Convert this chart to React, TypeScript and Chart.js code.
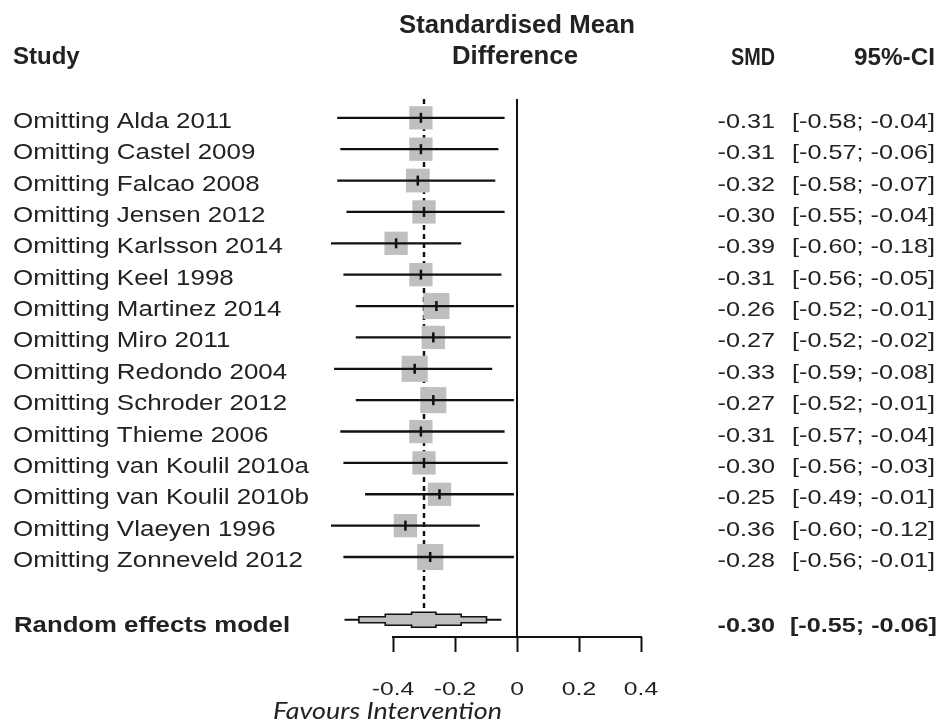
import React, { useEffect, useRef } from 'react';
import { Chart, registerables } from 'chart.js';

Chart.register(...registerables);

// ---------- data ----------
const studies = [
  'Omitting Alda 2011',
  'Omitting Castel 2009',
  'Omitting Falcao 2008',
  'Omitting Jensen 2012',
  'Omitting Karlsson 2014',
  'Omitting Keel 1998',
  'Omitting Martinez 2014',
  'Omitting Miro 2011',
  'Omitting Redondo 2004',
  'Omitting Schroder 2012',
  'Omitting Thieme 2006',
  'Omitting van Koulil 2010a',
  'Omitting van Koulil 2010b',
  'Omitting Vlaeyen 1996',
  'Omitting Zonneveld 2012',
];
const smd = [-0.31, -0.31, -0.32, -0.30, -0.39, -0.31, -0.26, -0.27, -0.33, -0.27, -0.31, -0.30, -0.25, -0.36, -0.28];
const ciLower = [-0.58, -0.57, -0.58, -0.55, -0.60, -0.56, -0.52, -0.52, -0.59, -0.52, -0.57, -0.56, -0.49, -0.60, -0.56];
const ciUpper = [-0.04, -0.06, -0.07, -0.04, -0.18, -0.05, -0.01, -0.02, -0.08, -0.01, -0.04, -0.03, -0.01, -0.12, -0.01];
const boxWeights = [1, 1, 1.02, 1, 1, 1, 1.12, 1, 1.12, 1.12, 1, 1, 1, 1, 1.12];

const pooledLabel = 'Random effects model';
const pooledSmd = -0.30;
const pooledLower = -0.55;
const pooledUpper = -0.06;

const xTicks = [-0.4, -0.2, 0, 0.2, 0.4];

const headerStudy = 'Study';
const headerEffect1 = 'Standardised Mean';
const headerEffect2 = 'Difference';
const headerSmd = 'SMD';
const headerCi = '95%-CI';
const xLabel = 'Favours Intervention';

// ---------- layout helpers ----------
const pooledRow = studies.length + 1;
const TEXT = '#222222';
const BOX = '#bfbfbf';
const LINE = '#111111';
const BASE_BOX = 23.3;

function fmt(v: number) {
  return v.toFixed(2);
}

function drawText(
  ctx: CanvasRenderingContext2D,
  s: string,
  x: number,
  y: number,
  font: string,
  align: 'left' | 'right' | 'center',
  sx: number,
  targetWidth?: number
) {
  ctx.save();
  ctx.font = font;
  ctx.fillStyle = TEXT;
  ctx.textBaseline = 'alphabetic';
  ctx.textAlign = 'left';
  const w = ctx.measureText(s).width;
  const k = targetWidth ? targetWidth / w : sx;
  const W = w * k;
  const left = align === 'left' ? x : align === 'right' ? x - W : x - W / 2;
  ctx.translate(left, y);
  ctx.scale(k, 1);
  ctx.fillText(s, 0, 0);
  ctx.restore();
}

const forestPlugin = {
  id: 'forestPlot',
  beforeDatasetsDraw(chart: any) {
    const { ctx, chartArea, scales } = chart;
    const xs = scales.x;
    const ys = scales.y;
    const px = xs.getPixelForValue(pooledSmd);
    const py = ys.getPixelForValue(pooledRow);
    ctx.save();
    ctx.strokeStyle = LINE;
    ctx.lineWidth = 2.5;
    ctx.setLineDash([5, 4]);
    ctx.beginPath();
    ctx.moveTo(px, chartArea.top);
    ctx.lineTo(px, py - 7.5);
    ctx.stroke();
    ctx.restore();
  },
  afterDatasetsDraw(chart: any) {
    const { ctx, chartArea, scales } = chart;
    const xs = scales.x;
    const ys = scales.y;

    ctx.save();
    ctx.strokeStyle = LINE;
    ctx.lineCap = 'butt';

    // zero line
    const x0 = xs.getPixelForValue(0);
    ctx.lineWidth = 2;
    ctx.beginPath();
    ctx.moveTo(x0, chartArea.top);
    ctx.lineTo(x0, chartArea.bottom);
    ctx.stroke();

    // axis line between first and last tick
    ctx.beginPath();
    ctx.moveTo(xs.getPixelForValue(xTicks[0]) - 1, chartArea.bottom);
    ctx.lineTo(xs.getPixelForValue(xTicks[xTicks.length - 1]) + 1, chartArea.bottom);
    ctx.stroke();

    // CI lines + estimate ticks
    studies.forEach((_, i) => {
      const y = ys.getPixelForValue(i);
      ctx.lineWidth = 2.3;
      ctx.beginPath();
      ctx.moveTo(xs.getPixelForValue(ciLower[i]), y);
      ctx.lineTo(xs.getPixelForValue(ciUpper[i]), y);
      ctx.stroke();
      const ex = xs.getPixelForValue(smd[i]);
      ctx.lineWidth = 2.5;
      ctx.beginPath();
      ctx.moveTo(ex, y - 5);
      ctx.lineTo(ex, y + 5);
      ctx.stroke();
    });

    // pooled estimate (stepped diamond)
    const py = ys.getPixelForValue(pooledRow);
    const pc = xs.getPixelForValue(pooledSmd);
    const pl = xs.getPixelForValue(pooledLower);
    const pu = xs.getPixelForValue(pooledUpper);
    ctx.lineWidth = 2;
    ctx.beginPath();
    ctx.moveTo(pl - 2, py);
    ctx.lineTo(pu + 3, py);
    ctx.stroke();
    const L = (f: number) => pc - (pc - pl) * f;
    const R = (f: number) => pc + (pu - pc) * f;
    const steps: [number, number][] = [
      [0.84, 3],
      [0.5, 5.5],
      [0.16, 7.5],
    ];
    const pts: [number, number][] = [];
    // top edge left -> right
    steps.forEach(([f, h], k) => {
      pts.push([L(f), py - (k === 0 ? h : steps[k - 1][1])]);
      pts.push([L(f), py - h]);
    });
    for (let k = steps.length - 1; k >= 0; k--) {
      const [f, h] = steps[k];
      pts.push([R(f), py - h]);
      pts.push([R(f), py - (k === 0 ? h : steps[k - 1][1])]);
    }
    // bottom edge right -> left
    steps.forEach(([f, h], k) => {
      pts.push([R(f), py + (k === 0 ? h : steps[k - 1][1])]);
      pts.push([R(f), py + h]);
    });
    for (let k = steps.length - 1; k >= 0; k--) {
      const [f, h] = steps[k];
      pts.push([L(f), py + h]);
      pts.push([L(f), py + (k === 0 ? h : steps[k - 1][1])]);
    }
    // reorder bottom so polygon is consistent
    const top = pts.slice(0, pts.length / 2);
    const bottom = pts.slice(pts.length / 2);
    bottom.reverse();
    const bottomFixed = bottom.map(([x, yy]) => [x, yy] as [number, number]);
    ctx.beginPath();
    top.forEach(([x, yy], k) => (k === 0 ? ctx.moveTo(x, yy) : ctx.lineTo(x, yy)));
    // bottom mirrored from right to left
    for (let k = top.length - 1; k >= 0; k--) {
      const [x, yy] = top[k];
      ctx.lineTo(x, py + (py - yy));
    }
    ctx.closePath();
    ctx.fillStyle = BOX;
    ctx.fill();
    ctx.lineWidth = 1.6;
    ctx.stroke();
    void bottomFixed;
    ctx.restore();

    // ---------- texts ----------
    const reg = (s: number) => `${s}px "Liberation Sans", Arial, sans-serif`;
    const bold = (s: number) => `bold ${s}px "Liberation Sans", Arial, sans-serif`;

    drawText(ctx, headerStudy, 13, 64, bold(24), 'left', 1);
    drawText(ctx, headerEffect1, x0, 33, bold(25), 'center', 1, 236);
    drawText(ctx, headerEffect2, x0 - 2, 64, bold(25), 'center', 1, 126);
    drawText(ctx, headerSmd, 775, 65, bold(24), 'right', 1, 44);
    drawText(ctx, headerCi, 935, 65, bold(24), 'right', 1, 81);

    studies.forEach((s, i) => {
      const y = ys.getPixelForValue(i) + 10;
      drawText(ctx, s, 13, y, reg(22), 'left', 1.18);
      drawText(ctx, fmt(smd[i]), 775, y, reg(21), 'right', 1.2);
      drawText(ctx, `[${fmt(ciLower[i])}; ${fmt(ciUpper[i])}]`, 935, y, reg(21), 'right', 1.2);
    });

    const yp = py + 12;
    drawText(ctx, pooledLabel, 14, yp, bold(22), 'left', 1.17);
    drawText(ctx, fmt(pooledSmd), 775, yp, bold(21), 'right', 1.2);
    drawText(ctx, `[${fmt(pooledLower)}; ${fmt(pooledUpper)}]`, 937, yp, bold(21), 'right', 1.2);

    // x tick labels
    xs.ticks.forEach((t: any) => {
      const label = t.value === 0 ? '0' : t.value.toFixed(1);
      drawText(ctx, label, xs.getPixelForValue(t.value), 695, reg(19), 'center', 1.3);
    });

    drawText(ctx, xLabel, 273, 719, 'italic 24px Lato, "Open Sans", sans-serif', 'left', 1, 229);
  },
};

export default function App() {
  const ref = useRef<HTMLCanvasElement | null>(null);

  useEffect(() => {
    if (!ref.current) return;
    const chart = new Chart(ref.current, {
      type: 'scatter',
      data: {
        datasets: [
          {
            label: 'SMD',
            data: smd.map((v, i) => ({ x: v, y: i })),
            pointStyle: 'rect',
            pointRadius: boxWeights.map((w) => (w * BASE_BOX) / (2 * Math.SQRT1_2)),
            pointHoverRadius: boxWeights.map((w) => (w * BASE_BOX) / (2 * Math.SQRT1_2)),
            backgroundColor: BOX,
            borderWidth: 0,
          },
        ],
      },
      options: {
        responsive: false,
        animation: false,
        devicePixelRatio: 1,
        layout: { padding: { left: 300, right: 275, top: 99, bottom: 73 } },
        plugins: { legend: { display: false }, tooltip: { enabled: false } },
        events: [],
        scales: {
          x: {
            type: 'linear',
            min: -0.7,
            max: 0.5,
            afterBuildTicks: (scale: any) => {
              scale.ticks = xTicks.map((v) => ({ value: v }));
            },
            ticks: { display: false },
            grid: {
              display: true,
              drawOnChartArea: false,
              drawTicks: true,
              tickLength: 15,
              tickWidth: 2,
              tickColor: LINE,
            },
            border: { display: false },
          },
          y: {
            type: 'linear',
            display: false,
            reverse: true,
            min: -0.6,
            max: 16.55,
          },
        },
      },
      plugins: [forestPlugin],
    });
    return () => chart.destroy();
  }, []);

  return (
    <div style={{ position: 'absolute', left: 0, top: 0, width: 947, height: 725, background: '#fff' }}>
      <canvas ref={ref} width={947} height={725} style={{ display: 'block' }} />
    </div>
  );
}
